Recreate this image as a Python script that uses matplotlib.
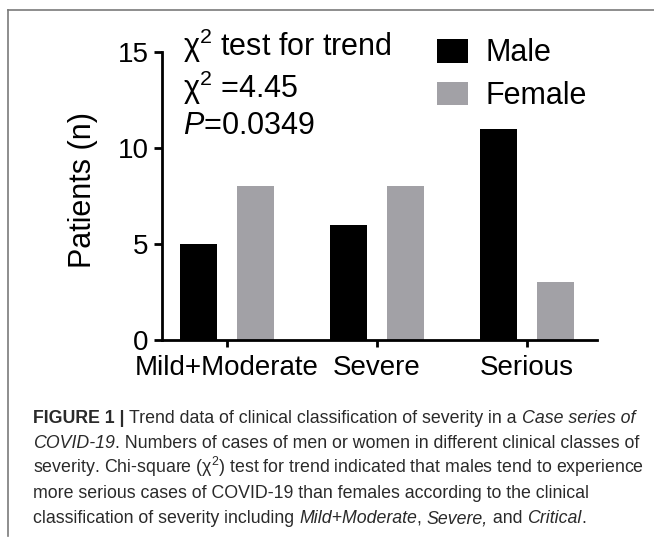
import matplotlib
matplotlib.use("Agg")
import matplotlib.pyplot as plt
import numpy as np

categories = ["Mild+Moderate", "Severe", "Serious"]
male = [5, 6, 11]
female = [8, 8, 3]
series_names = ["Male", "Female"]
yticks = [0, 5, 10, 15]

MALE_C = "#000000"
FEMALE_C = "#a2a1a6"

plt.rcParams['font.family'] = ['Liberation Sans', 'DejaVu Sans']
plt.rcParams['mathtext.fontset'] = 'custom'
plt.rcParams['mathtext.rm'] = 'Liberation Sans'
plt.rcParams['mathtext.it'] = 'Liberation Sans:italic'

W, H = 654, 539
fig = plt.figure(figsize=(W / 100, H / 100), dpi=100)

# frame lines
fig.add_artist(plt.Line2D([8 / W, 1], [1 - 10 / H, 1 - 10 / H], color="#7a7a7a", lw=1.2))
fig.add_artist(plt.Line2D([8 / W, 8 / W], [1 - 10 / H, 1 - 536 / H], color="#7a7a7a", lw=1.2))

ax = fig.add_axes([162 / W, (H - 340) / H, (597 - 162) / W, (340 - 52) / H])
x = np.arange(len(categories))
bw = 0.25
off = 0.19
ax.bar(x - off, male, width=bw, color=MALE_C, label=series_names[0])
ax.bar(x + off, female, width=bw, color=FEMALE_C, label=series_names[1])

ax.set_xlim(-0.433, 2.467)
ax.set_ylim(0, 15)
ax.set_yticks(yticks)
ax.set_xticks(x)
ax.set_xticklabels(categories, fontsize=20)
ax.tick_params(axis='y', labelsize=20, length=5.5, width=2, pad=4)
ax.tick_params(axis='x', length=5, width=2, pad=5.5)
for s in ['top', 'right']:
    ax.spines[s].set_visible(False)
for s in ['left', 'bottom']:
    ax.spines[s].set_linewidth(2)
ax.set_ylabel("Patients (n)", fontsize=22)
ax.yaxis.set_label_coords(-0.148, 0.52)

# annotation text
fig.text(183 / W, 1 - 56 / H, r"$\mathrm{χ}^{2}$ test for trend", fontsize=22, va='baseline', ha='left')
fig.text(183 / W, 1 - 98 / H, r"$\mathrm{χ}^{2}$ =4.45", fontsize=22, va='baseline', ha='left')
fig.text(183 / W, 1 - 134 / H, r"$\mathit{P}$=0.0349", fontsize=22, va='baseline', ha='left')

# legend
leg = ax.legend(loc='upper left', bbox_to_anchor=((437 - 162) / (597 - 162) - 0.028, 1.09),
                frameon=False, fontsize=22, handlelength=1.0, handleheight=0.82,
                handletextpad=0.6, labelspacing=0.42, borderaxespad=0)

# caption
fig.canvas.draw()
renderer = fig.canvas.get_renderer()
cap_family = ['Liberation Sans', 'DejaVu Sans']

cap_lines = [
    [("FIGURE 1 | ", "bold", "normal"),
     ("Trend data of clinical classification of severity in a ", "normal", "normal"),
     ("Case series of", "normal", "italic")],
    [("COVID-19", "normal", "italic"),
     (". Numbers of cases of men or women in different clinical classes of", "normal", "normal")],
    [("severity. Chi-square (χ$^{2}$) test for trend indicated that males tend to experience", "normal", "normal")],
    [("more serious cases of COVID-19 than females according to the clinical", "normal", "normal")],
    [("classification of severity including ", "normal", "normal"),
     ("Mild+Moderate", "normal", "italic"),
     (", ", "normal", "normal"),
     ("Severe,", "normal", "italic"),
     (" and ", "normal", "normal"),
     ("Critical", "normal", "italic"),
     (".", "normal", "normal")],
]

# caption size chosen so the longest line spans the caption width
probe = fig.text(0, 0, cap_lines[2][0][0], fontsize=10, family=cap_family)
pw = probe.get_window_extent(renderer=renderer).width
probe.remove()
cap_fs = 10 * 610.0 / pw

baselines = [423, 448, 473, 498, 523]
for line, yb in zip(cap_lines, baselines):
    xpix = 33.0
    for txt, wt, st in line:
        t = fig.text(xpix / W, 1 - yb / H, txt, fontsize=cap_fs, fontweight=wt,
                     fontstyle=st, va='baseline', ha='left', color="#2a2a2a",
                     family=cap_family)
        bb = t.get_window_extent(renderer=renderer)
        xpix += bb.width

fig.savefig("out.png", dpi=100)
